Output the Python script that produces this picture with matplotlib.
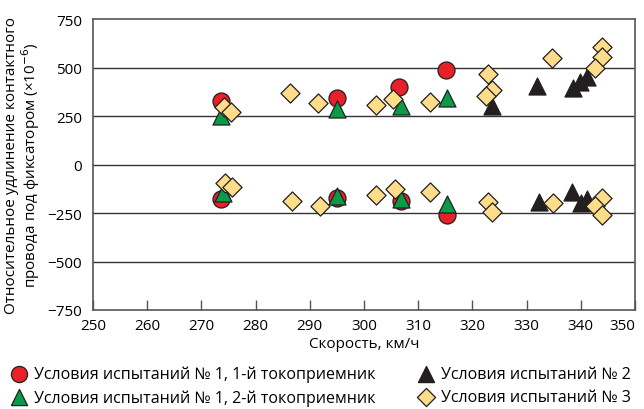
import matplotlib.pyplot as plt

plt.rcParams['font.family'] = ['Open Sans', 'DejaVu Sans']
plt.rcParams['font.size'] = 11

# Условия испытаний № 1, 1-й токоприемник
v1a = [273.7, 295.0, 306.5, 315.1, 273.6, 295.0, 306.8, 315.4]
e1a = [326, 343, 401, 489, -178, -174, -187, -260]

# Условия испытаний № 1, 2-й токоприемник
v1b = [273.7, 295.0, 306.8, 315.3, 273.9, 295.0, 306.8, 315.3]
e1b = [252, 285, 303, 343, -145, -160, -178, -204]

# Условия испытаний № 2
v2 = [323.6, 331.9, 338.6, 339.9, 341.1, 332.2, 338.4, 340.0, 341.2]
e2 = [300, 403, 393, 424, 453, -191, -140, -198, -178]

# Условия испытаний № 3
v3 = [274.2, 275.4, 286.4, 291.6, 302.3, 305.4, 312.1, 322.8, 323.7, 322.6,
      334.7, 343.9, 343.9, 342.7,
      274.4, 275.6, 286.8, 291.9, 302.2, 305.7, 312.2, 322.8, 323.7, 334.8,
      343.9, 342.6, 343.9]
e3 = [295, 269, 369, 315, 307, 338, 324, 466, 386, 351,
      551, 604, 552, 496,
      -97, -118, -187, -212, -155, -126, -140, -191, -247, -198,
      -174, -212, -260]

labels = ['Условия испытаний № 1, 1-й токоприемник',
          'Условия испытаний № 1, 2-й токоприемник',
          'Условия испытаний № 2',
          'Условия испытаний № 3']

fig = plt.figure(figsize=(6.44, 4.10), dpi=100)
ax = fig.add_axes([0.1444, 0.2415, 0.8416, 0.7095])

ec = '#231f20'
ax.scatter(v1a, e1a, s=150, marker='o', color='#e8202a', edgecolor=ec, linewidth=0.9, zorder=3, label=labels[0])
ax.scatter(v1b, e1b, s=150, marker='^', color='#0a9b48', edgecolor=ec, linewidth=0.9, zorder=4, label=labels[1])
ax.scatter(v2, e2, s=150, marker='^', color=ec, edgecolor=ec, linewidth=0.9, zorder=3, label=labels[2])
ax.scatter(v3, e3, s=95, marker='D', color='#fddc8a', edgecolor=ec, linewidth=0.9, zorder=5, label=labels[3])

ax.set_xlim(250, 350)
ax.set_ylim(-750, 750)
ax.set_xticks(range(250, 351, 10))
ax.set_yticks(range(-750, 751, 250))
ax.set_yticklabels(['\u2212750', '\u2212500', '\u2212250', '0', '250', '500', '750'])
ax.tick_params(axis='x', direction='in', length=7, width=1, color='#555555', pad=6)
ax.tick_params(axis='y', length=0, pad=8)
# последняя подпись по оси X прижата к правому краю
ax.get_xticklabels()[-1].set_horizontalalignment('right')
for y in [-500, -250, 0, 250, 500]:
    ax.axhline(y, color='#333333', linewidth=1, zorder=1)
for s in ax.spines.values():
    s.set_color('#555555')
    s.set_linewidth(1.2)

ax.set_xlabel('Скорость, км/ч', labelpad=2)
ax.set_ylabel('Относительное удлинение контактного\nпровода под фиксатором (×10$^{-6}$)',
              linespacing=1.0, labelpad=4)

fig.legend(loc='lower left', bbox_to_anchor=(0.0, -0.015), ncol=2, frameon=False,
           fontsize=11.5, markerscale=0.95,
           handletextpad=0.3, columnspacing=2.6, labelspacing=0.45, borderaxespad=0.2,
           handlelength=1.2)

fig.savefig('out.png', dpi=100)
